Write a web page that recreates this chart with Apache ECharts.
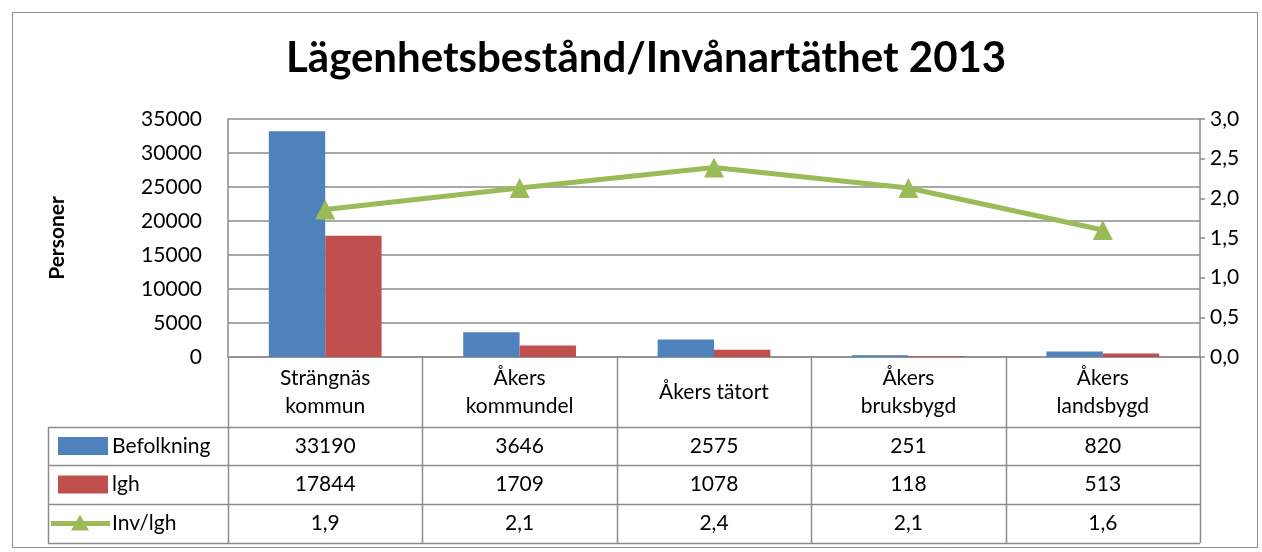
<!DOCTYPE html>
<html>
<head>
<meta charset="utf-8">
<script src="https://cdn.jsdelivr.net/npm/echarts@6/dist/echarts.min.js"></script>
<style>
html, body { margin: 0; padding: 0; background: #fff; }
#main { width: 1262px; height: 552px; }
</style>
</head>
<body>
<div id="main"></div>
<script>
// data
var categories = ['Strängnäs\nkommun', 'Åkers\nkommundel', 'Åkers tätort', 'Åkers\nbruksbygd', 'Åkers\nlandsbygd'];
var befolkning = [33190, 3646, 2575, 251, 820];
var lgh = [17844, 1709, 1078, 118, 513];
var invLgh = [1.86, 2.13, 2.39, 2.13, 1.60];
var seriesNames = ['Befolkning', 'lgh', 'Inv/lgh'];

var colors = ['#4F81BD', '#C0504D', '#9BBB59'];
var font = 'Lato, "Open Sans", sans-serif';
var lineCol = '#8c8c8c';
var fs = 21;

// layout of plot + table
var gl = 228, gr = 1200, gt = 119, gb = 357;
var tblLeft = 48;
var rowY = [357, 427, 465, 504, 543];
var colW = (gr - gl) / categories.length;

function comma(v, d) {
	return v.toFixed(d).replace('.', ',');
}

var graphics = [];
// outer frame
graphics.push({ type: 'rect', shape: { x: 12.5, y: 12.5, width: 1245, height: 535 },
	style: { fill: null, stroke: lineCol, lineWidth: 1 }, silent: true });

// table horizontal lines
for (var r = 1; r < rowY.length; r++) {
	graphics.push({ type: 'line', shape: { x1: tblLeft, y1: rowY[r] + 0.5, x2: gr, y2: rowY[r] + 0.5 },
		style: { stroke: lineCol, lineWidth: 1.5 } });
}
// table vertical lines
graphics.push({ type: 'line', shape: { x1: tblLeft + 0.5, y1: rowY[1], x2: tblLeft + 0.5, y2: rowY[4] },
	style: { stroke: lineCol, lineWidth: 1.5 } });
for (var c = 0; c <= categories.length; c++) {
	var x = Math.round(gl + c * colW) + 0.5;
	graphics.push({ type: 'line', shape: { x1: x, y1: rowY[0], x2: x, y2: rowY[4] },
		style: { stroke: lineCol, lineWidth: 1.5 } });
}

// table texts
var rows = [
	befolkning.map(function (v) { return String(v); }),
	lgh.map(function (v) { return String(v); }),
	invLgh.map(function (v) { return comma(v, 1); })
];
for (var c = 0; c < categories.length; c++) {
	var cx = gl + (c + 0.5) * colW;
	graphics.push({ type: 'text', x: cx, y: (rowY[0] + rowY[1]) / 2,
		style: { text: categories[c], font: fs + 'px ' + font, fill: '#000', align: 'center',
			verticalAlign: 'middle', lineHeight: 28 } });
	for (var r = 0; r < rows.length; r++) {
		graphics.push({ type: 'text', x: cx, y: (rowY[r + 1] + rowY[r + 2]) / 2,
			style: { text: rows[r][c], font: fs + 'px ' + font, fill: '#000', align: 'center', verticalAlign: 'middle' } });
	}
}
// legend keys in table
for (var r = 0; r < 3; r++) {
	var cy = (rowY[r + 1] + rowY[r + 2]) / 2;
	if (r < 2) {
		graphics.push({ type: 'rect', shape: { x: 58, y: cy - 9, width: 50, height: 18 }, style: { fill: colors[r] } });
	} else {
		graphics.push({ type: 'line', shape: { x1: 51, y1: cy, x2: 110, y2: cy }, style: { stroke: colors[2], lineWidth: 5 } });
		graphics.push({ type: 'polygon', shape: { points: [[80, cy - 9], [71, cy + 7], [89, cy + 7]] }, style: { fill: colors[2] } });
	}
	graphics.push({ type: 'text', x: 112, y: cy,
		style: { text: seriesNames[r], font: fs + 'px ' + font, fill: '#000', align: 'left', verticalAlign: 'middle' } });
}

var myChart = echarts.init(document.getElementById('main'));
var option = {
	animation: false,
	title: {
		text: 'Lägenhetsbestånd/Invånartäthet 2013',
		left: 281, top: 32,
		textStyle: { fontFamily: font, fontWeight: 'bold', fontSize: 42, color: '#000' }
	},
	grid: { left: gl, right: 1262 - gr, top: gt, bottom: 552 - gb },
	xAxis: {
		type: 'category',
		data: categories,
		axisLine: { lineStyle: { color: lineCol, width: 1.5 } },
		axisTick: { show: false },
		axisLabel: { show: false }
	},
	yAxis: [{
		type: 'value', min: 0, max: 35000, interval: 5000,
		name: 'Personer', nameLocation: 'middle', nameGap: 160, nameRotate: 90,
		nameTextStyle: { fontFamily: font, fontWeight: 'bold', fontSize: 21, color: '#000' },
		axisLine: { show: true, lineStyle: { color: lineCol, width: 1.5 } },
		axisTick: { show: false },
		axisLabel: { fontFamily: font, fontSize: fs, color: '#000', margin: 26,
			formatter: function (v) { return String(v); } },
		splitLine: { lineStyle: { color: lineCol, width: 1.5 } }
	}, {
		type: 'value', min: 0, max: 3, interval: 0.5,
		axisLine: { show: true, lineStyle: { color: lineCol, width: 1.5 } },
		axisTick: { show: true, length: 5, lineStyle: { color: lineCol, width: 1.5 } },
		axisLabel: { fontFamily: font, fontSize: fs, color: '#000', margin: 10,
			formatter: function (v) { return comma(v, 1); } },
		splitLine: { show: false }
	}],
	series: [{
		name: seriesNames[0], type: 'bar', data: befolkning,
		itemStyle: { color: colors[0] }, barGap: '0%', barCategoryGap: '42%'
	}, {
		name: seriesNames[1], type: 'bar', data: lgh,
		itemStyle: { color: colors[1] }
	}, {
		name: seriesNames[2], type: 'line', yAxisIndex: 1, data: invLgh,
		lineStyle: { color: colors[2], width: 5 },
		itemStyle: { color: colors[2] },
		symbol: 'triangle', symbolSize: 20, showSymbol: true
	}],
	graphic: graphics
};
myChart.setOption(option);
</script>
</body>
</html>
